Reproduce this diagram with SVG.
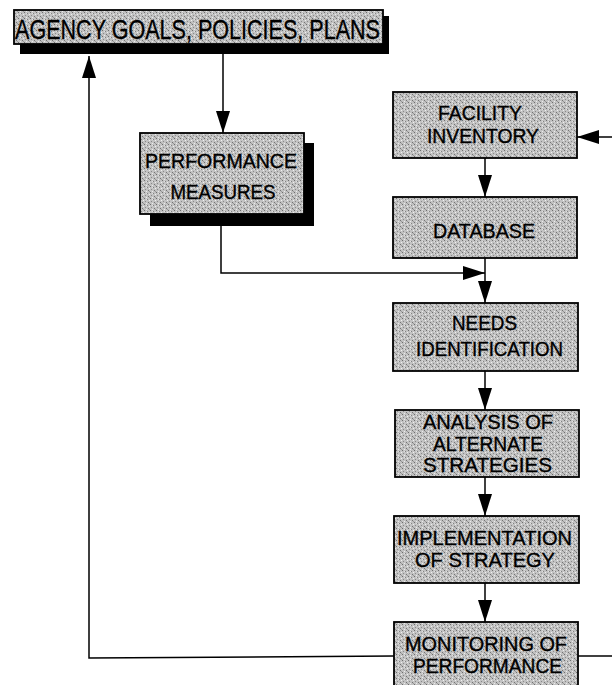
<svg xmlns="http://www.w3.org/2000/svg" width="612" height="685" viewBox="0 0 612 685">
<defs>
<pattern id="stip" width="6" height="6" patternUnits="userSpaceOnUse">
<rect width="6" height="6" fill="#c2c2c2"/>
<rect x="0" y="0" width="1" height="1" fill="#6e6e6e"/>
<rect x="3" y="1" width="1" height="1" fill="#828282"/>
<rect x="1" y="3" width="1" height="1" fill="#8a8a8a"/>
<rect x="4" y="4" width="1" height="1" fill="#747474"/>
<rect x="2" y="5" width="1" height="1" fill="#ececec"/>
<rect x="5" y="2" width="1" height="1" fill="#f0f0f0"/>
<rect x="2" y="1" width="1" height="1" fill="#e0e0e0"/>
<rect x="5" y="5" width="1" height="1" fill="#999"/>
</pattern>
<marker id="ah" markerUnits="userSpaceOnUse" markerWidth="24" markerHeight="14" refX="22" refY="7" orient="auto">
<path d="M0,0 L22,7 L0,14 z" fill="#000"/>
</marker>
</defs>
<style>
.box{fill:url(#stip);stroke:#000;stroke-width:1.8}
.shadow{fill:#000}
.t{font-family:"Liberation Sans",Arial,sans-serif;font-size:19.5px;fill:#000;stroke:#000;stroke-width:0.35;text-anchor:middle}
.big{font-size:28px}
.c{fill:none;stroke:#000;stroke-width:1.5}
</style>
<rect width="612" height="685" fill="#fff"/>

<g id="connectors">
<path class="c" d="M223,54 L223,133" marker-end="url(#ah)"/>
<path class="c" d="M221,226 L221,273 L485,273" marker-end="url(#ah)"/>
<path class="c" d="M485,158 L485,197" marker-end="url(#ah)"/>
<path class="c" d="M485,258 L485,303" marker-end="url(#ah)"/>
<path class="c" d="M485,371 L485,410" marker-end="url(#ah)"/>
<path class="c" d="M485,477 L485,516" marker-end="url(#ah)"/>
<path class="c" d="M485,583 L485,622" marker-end="url(#ah)"/>
<path class="c" d="M394,656 L89,658 L89,56" marker-end="url(#ah)"/>
<path class="c" d="M612,137 L577,137" marker-end="url(#ah)"/>
<path class="c" d="M578,656 L612,656"/>
</g>

<g id="agency">
<rect class="shadow" x="20" y="16" width="369" height="38"/>
<rect class="box" x="14" y="10" width="369" height="34"/>
<text class="t big" x="197.5" y="39" textLength="365" lengthAdjust="spacingAndGlyphs">AGENCY GOALS, POLICIES, PLANS</text>
</g>

<g id="performance">
<rect class="shadow" x="150" y="143" width="164" height="83"/>
<rect class="box" x="140" y="133" width="164" height="81"/>
<text class="t" x="221" y="168" textLength="152" lengthAdjust="spacingAndGlyphs">PERFORMANCE</text>
<text class="t" x="223" y="199" textLength="105" lengthAdjust="spacingAndGlyphs">MEASURES</text>
</g>

<g id="facility">
<rect class="box" x="393" y="92" width="184" height="66"/>
<text class="t" x="480" y="120" textLength="84" lengthAdjust="spacingAndGlyphs">FACILITY</text>
<text class="t" x="483" y="143" textLength="112" lengthAdjust="spacingAndGlyphs">INVENTORY</text>
</g>

<g id="database">
<rect class="box" x="393" y="197" width="184" height="61"/>
<text class="t" x="484" y="238" textLength="102" lengthAdjust="spacingAndGlyphs">DATABASE</text>
</g>

<g id="needs">
<rect class="box" x="393" y="303" width="185" height="68"/>
<text class="t" x="484.5" y="330" textLength="65" lengthAdjust="spacingAndGlyphs">NEEDS</text>
<text class="t" x="489.5" y="356" textLength="147" lengthAdjust="spacingAndGlyphs">IDENTIFICATION</text>
</g>

<g id="analysis">
<rect class="box" x="395" y="410" width="184" height="67"/>
<text class="t" x="488" y="429" textLength="130" lengthAdjust="spacingAndGlyphs">ANALYSIS OF</text>
<text class="t" x="488" y="451" textLength="110" lengthAdjust="spacingAndGlyphs">ALTERNATE</text>
<text class="t" x="487.5" y="472" textLength="129" lengthAdjust="spacingAndGlyphs">STRATEGIES</text>
</g>

<g id="implementation">
<rect class="box" x="394" y="516" width="185" height="67"/>
<text class="t" x="484.5" y="545" textLength="175" lengthAdjust="spacingAndGlyphs">IMPLEMENTATION</text>
<text class="t" x="485" y="567" textLength="140" lengthAdjust="spacingAndGlyphs">OF STRATEGY</text>
</g>

<g id="monitoring">
<rect class="box" x="394" y="622" width="184" height="70"/>
<text class="t" x="486" y="651" textLength="162" lengthAdjust="spacingAndGlyphs">MONITORING OF</text>
<text class="t" x="487.5" y="673" textLength="149" lengthAdjust="spacingAndGlyphs">PERFORMANCE</text>
</g>
</svg>
